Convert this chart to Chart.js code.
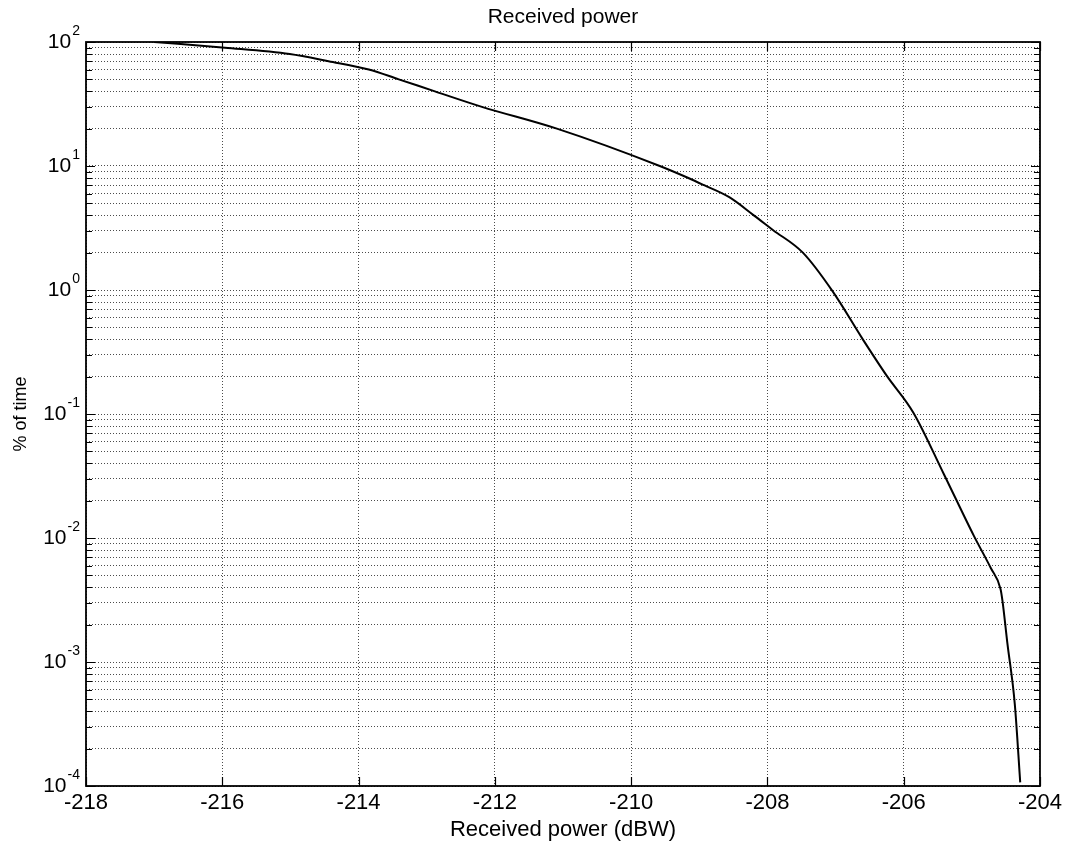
<!DOCTYPE html>
<html>
<head>
<meta charset="utf-8">
<title>Received power</title>
<script src="https://cdn.jsdelivr.net/npm/chart.js@4.4.1/dist/chart.umd.min.js"></script>
<style>
  body { margin: 0; background: #fff; }
  #wrap { width: 1066px; height: 850px; }
</style>
</head>
<body>
<div id="wrap"><canvas id="canvas" width="1066" height="850"></canvas></div>
<script>
// values (grid crossings)
var powerDbw = [-217.0, -215.96, -215.01, -214.44, -213.85, -213.41, -212.88, -212.19, -211.09, -209.58,
                -209.16, -208.93, -208.56, -208.2, -207.92, -207.48, -207.04, -206.6, -206.25, -205.86,
                -205.41, -204.97, -204.72, -204.58, -204.55, -204.48, -204.37, -204.29];
var pctTime = [100, 90, 80, 70, 60, 50, 40, 30, 20, 10,
               8, 7, 5.6, 4.0, 3.05, 2.0, 0.97, 0.40, 0.204, 0.103,
               0.0327, 0.0104, 0.0057, 0.0039, 0.0031, 0.00144, 0.00046, 0.000107];
var xTicks = [-218, -216, -214, -212, -210, -208, -206, -204];
var yDecades = [-4, -3, -2, -1, 0, 1, 2];

var fontFam = "'Liberation Sans', Arial, sans-serif";

// every 1..9 x 10^k between the decades, like the matlab grid
var yGridVals = [];
for (var d = 0; d < yDecades.length; d++) {
    for (var m = 1; m <= 9; m++) {
        if (d == yDecades.length - 1 && m > 1) break;
        yGridVals.push(m * Math.pow(10, yDecades[d]));
    }
}

var pts = [];
for (var i = 0; i < powerDbw.length; i++) pts.push({x: powerDbw[i], y: pctTime[i]});

// frame, inner tick marks and 10^n labels
var matlabAxes = {
    id: 'matlabAxes',
    afterDraw: function(chart) {
        var ctx = chart.ctx, a = chart.chartArea;
        var xs = chart.scales.x, ys = chart.scales.y;
        ctx.save();
        ctx.strokeStyle = '#000';
        ctx.lineWidth = 1.2;
        ctx.beginPath();
        xTicks.forEach(function(v) {
            var px = Math.round(xs.getPixelForValue(v)) + 0.5;
            ctx.moveTo(px, a.bottom); ctx.lineTo(px, a.bottom - 9);
            ctx.moveTo(px, a.top); ctx.lineTo(px, a.top + 9);
        });
        yGridVals.forEach(function(v) {
            var py = Math.round(ys.getPixelForValue(v)) + 0.5;
            var isMajor = Math.abs(Math.log10(v) - Math.round(Math.log10(v))) < 1e-9;
            var len = isMajor ? 9 : 6;
            ctx.moveTo(a.left, py); ctx.lineTo(a.left + len, py);
            ctx.moveTo(a.right, py); ctx.lineTo(a.right - len, py);
        });
        ctx.stroke();
        ctx.lineWidth = 1.8;
        ctx.strokeRect(a.left, a.top, a.right - a.left, a.bottom - a.top);

        // y labels
        ctx.fillStyle = '#000';
        ctx.textBaseline = 'middle';
        yDecades.forEach(function(e) {
            var py = ys.getPixelForValue(Math.pow(10, e));
            var ex = String(e);
            ctx.font = '14px ' + fontFam;
            var ew = ctx.measureText(ex).width;
            ctx.textAlign = 'left';
            ctx.fillText(ex, a.left - 6 - ew, py - 11);
            ctx.font = '21px ' + fontFam;
            ctx.textAlign = 'right';
            ctx.fillText('10', a.left - 7 - ew, py);
        });
        ctx.restore();
    }
};

var ctx = document.getElementById('canvas').getContext('2d');
window.rpChart = new Chart(ctx, {
    type: 'line',
    data: {
        datasets: [{
            label: 'Received power',
            data: pts,
            borderColor: '#000',
            borderWidth: 2,
            pointRadius: 0,
            fill: false,
            cubicInterpolationMode: 'monotone'
        }]
    },
    options: {
        responsive: false,
        animation: false,
        layout: { padding: { left: 0, right: 21, top: 0, bottom: 0 } },
        plugins: {
            legend: { display: false },
            tooltip: { enabled: false },
            title: {
                display: true,
                fullSize: false,
                text: 'Received power',
                color: '#000',
                font: { family: fontFam, size: 21, weight: 'normal' },
                padding: { top: 5, bottom: 11.8 }
            }
        },
        scales: {
            x: {
                type: 'linear',
                min: -218, max: -204,
                afterBuildTicks: function(s) { s.ticks = xTicks.map(function(v) { return {value: v}; }); },
                afterFit: function(s) { s.height = 64; },
                grid: { color: 'rgba(0,0,0,0.7)', lineWidth: 1, drawTicks: false },
                border: { display: false, dash: [1, 2] },
                ticks: {
                    color: '#000', padding: 4,
                    font: { family: fontFam, size: 22 },
                    callback: function(v) { return v; }
                },
                title: {
                    display: true, text: 'Received power (dBW)', color: '#000',
                    font: { family: fontFam, size: 22 },
                    padding: { top: 0, bottom: 7 }
                }
            },
            y: {
                type: 'logarithmic',
                min: 1e-4, max: 100,
                afterBuildTicks: function(s) { s.ticks = yGridVals.map(function(v) { return {value: v}; }); },
                afterFit: function(s) { s.width = 86; },
                grid: { color: 'rgba(0,0,0,0.7)', lineWidth: 1, drawTicks: false },
                border: { display: false, dash: [1, 2] },
                ticks: { display: false },
                title: {
                    display: true, text: '% of time', color: '#000',
                    font: { family: fontFam, size: 18 },
                    padding: { top: 10, bottom: 0 }
                }
            }
        }
    },
    plugins: [matlabAxes]
});
</script>
</body>
</html>
